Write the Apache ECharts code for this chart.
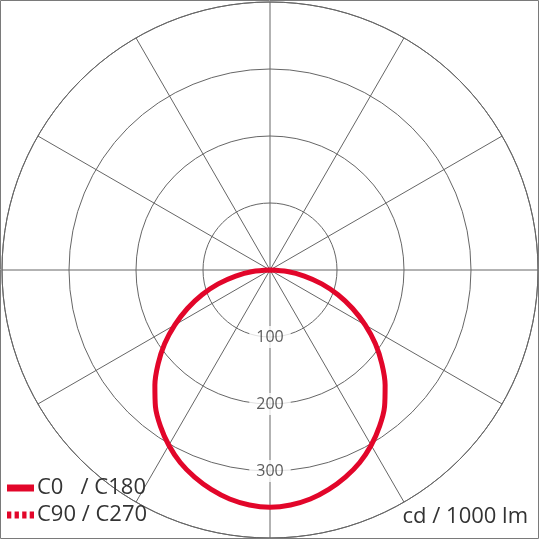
<!DOCTYPE html>
<html>
<head>
<meta charset="utf-8">
<script src="https://cdn.jsdelivr.net/npm/echarts@6/dist/echarts.min.js"></script>
<style>
html,body{margin:0;padding:0;background:#fff;}
#chart{width:540px;height:540px;}
</style>
</head>
<body>
<div id="chart"></div>
<script>
// gamma angle (deg), 0 = nadir (down)
const gammaAngles = [-90,-85,-80,-75,-70,-65,-60,-55,-50,-45,-40,-35,-30,-25,-20,-15,-10,-5,0,
                     5,10,15,20,25,30,35,40,45,50,55,60,65,70,75,80,85,90];
// C0 / C180 intensities (cd / 1000 lm)
const c0c180 = [0,26,52,80,108,136,164,192,218,243,266,285,302,317,329,339,347,352,354,
                352,347,339,329,317,302,285,266,243,218,192,164,136,108,80,52,26,0];
// C90 / C270 intensities (coincident with C0 / C180)
const c90c270 = [0,26,52,80,108,136,164,192,218,243,266,285,302,317,329,339,347,352,354,
                 352,347,339,329,317,302,285,266,243,218,192,164,136,108,80,52,26,0];
const radialTicks = [100, 200, 300];
const seriesNames = ['C0   / C180', 'C90 / C270'];
const unitText = 'cd / 1000 lm';

const RED = '#e2062a';
const GRID = '#666666';
const FONT = 'Open Sans';

function pairs(vals){ return vals.map((v,i)=>[v, gammaAngles[i]]); }

const chart = echarts.init(document.getElementById('chart'), null, {renderer:'canvas'});
chart.setOption({
  animation: false,
  backgroundColor: '#fff',
  title: {
    text: unitText, right: 12, top: 506, padding: 0,
    textStyle: {fontFamily: FONT, fontSize: 22, fontWeight: 'normal', color: '#333'}
  },
  legend: {
    left: 7, top: 477, padding: 0, orient: 'vertical', itemGap: 5,
    itemWidth: 27, itemHeight: 7,
    itemStyle: {borderWidth: 0},
    textStyle: {fontFamily: FONT, fontSize: 22, color: '#333', padding: [0,0,0,-2]},
    data: [
      {name: seriesNames[0], icon: 'rect'},
      {name: seriesNames[1], icon: 'path://M0 0H4.3V7H0Z M7.6 0H11.9V7H7.6Z M15.2 0H19.5V7H15.2Z M22.7 0H27V7H22.7Z'}
    ]
  },
  graphic: [{
    type: 'rect', silent: true, z: 100,
    shape: {x: 0.5, y: 0.5, width: 538, height: 538},
    style: {fill: 'none', stroke: '#7a7a7a', lineWidth: 1}
  }],
  polar: {center: [270, 270], radius: 268},
  angleAxis: {
    type: 'value', min: -180, max: 180, interval: 30, startAngle: 90, clockwise: true,
    axisLine: {show: true, lineStyle: {color: GRID, width: 1}},
    axisTick: {show: false}, axisLabel: {show: false},
    splitLine: {show: true, lineStyle: {color: GRID, width: 1}}
  },
  radiusAxis: {
    type: 'value', min: 0, max: 400, interval: 100,
    axisLine: {show: false}, axisTick: {show: false}, axisLabel: {show: false},
    splitLine: {show: true, lineStyle: {color: GRID, width: 1}}
  },
  series: [
    {
      name: seriesNames[1], type: 'line', coordinateSystem: 'polar',
      data: pairs(c90c270), smooth: 0.3, showSymbol: false, symbol: 'none',
      itemStyle: {color: RED},
      lineStyle: {color: RED, width: 3, type: [4, 3], join: 'round'}, z: 3
    },
    {
      name: seriesNames[0], type: 'line', coordinateSystem: 'polar',
      data: pairs(c0c180), smooth: 0.3, showSymbol: false, symbol: 'none',
      itemStyle: {color: RED},
      lineStyle: {color: RED, width: 5, join: 'round', cap: 'round'}, z: 4
    },
    {
      name: 'ticks', type: 'scatter', coordinateSystem: 'polar',
      data: radialTicks.map(r => [r, 0]), symbolSize: 0, silent: true, z: 5,
      label: {
        show: true, position: 'inside', formatter: p => String(p.value[0]),
        fontFamily: FONT, fontSize: 16, color: '#333',
        backgroundColor: '#fff', padding: [3, 7]
      }
    }
  ]
});
</script>
</body>
</html>
